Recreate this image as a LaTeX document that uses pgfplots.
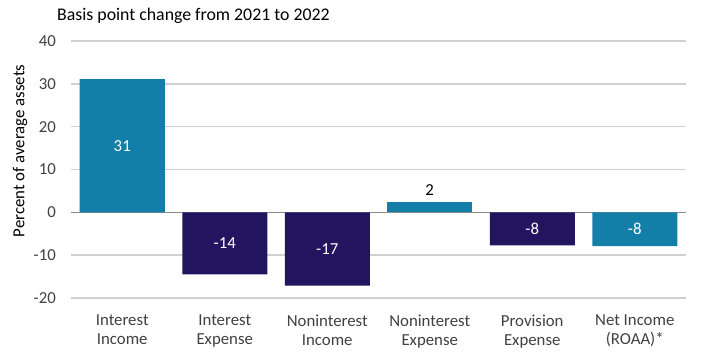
\documentclass[border=0pt]{standalone}
\usepackage{pgfplots}
\pgfplotsset{compat=1.18}
\usepackage{fontspec}
\setmainfont{Carlito}
\definecolor{tealbar}{HTML}{137FA8}
\definecolor{navybar}{HTML}{22145F}
\definecolor{gridc}{HTML}{D0D0D0}
\definecolor{zeroc}{HTML}{8C8C8C}
\definecolor{tickc}{HTML}{404040}
\begin{document}
\begin{tikzpicture}
\path[use as bounding box] (0,0) rectangle (725bp,355bp);
\begin{axis}[
  at={(71bp,57bp)}, anchor=south west,
  scale only axis, width=615bp, height=257bp,
  xmin=-0.5, xmax=5.5, ymin=-20, ymax=40,
  ytick={-20,-10,...,40},
  xtick={0,1,2,3,4,5},
  xticklabels={{Interest\\Income},{Interest\\Expense},{Noninterest\\Income},{Noninterest\\Expense},{Provision\\Expense},{Net Income\\(ROAA)*}},
  xticklabel style={align=center, font=\fontsize{16.8bp}{19bp}\selectfont, text=tickc, yshift=-13bp},
  yticklabel style={font=\fontsize{16.8bp}{19bp}\selectfont, text=tickc, inner sep=0pt, xshift=-15bp},
  /pgf/number format/assume math mode=true,
  major tick length=0pt,
  axis line style={draw=none},
  ymajorgrids, grid style={gridc, line width=1.4pt},
  extra y ticks={0}, extra y tick labels={},
  extra y tick style={grid style={zeroc, line width=1.4pt}},
  ylabel={Percent of average assets},
  ylabel style={at={(axis description cs:-0.083,0.572)}, anchor=center, font=\fontsize{16.8bp}{19bp}\selectfont, text=black},
  title={Basis point change from 2021 to 2022},
  title style={at={(axis description cs:-0.0228,1.075)}, anchor=west, inner sep=0pt, font=\fontsize{17.8bp}{20bp}\selectfont},
  ybar, bar width=85bp,
  clip=false,
]
\addplot[ybar, bar shift=0pt, fill=tealbar, draw=none,
  nodes near coords, point meta=explicit symbolic,
  visualization depends on={rawy \as \rawy},
  nodes near coords align={center},
  every node near coord/.append style={anchor=center, text=white, font=\fontsize{16.8bp}{19bp}\selectfont, yshift={-0.5*\rawy*4.28333bp}}]
  table[x=x, y=y, meta=lab] {
x y lab
0 31.1 31
5 -7.9 -8
};
\addplot[ybar, bar shift=0pt, fill=navybar, draw=none,
  nodes near coords, point meta=explicit symbolic,
  visualization depends on={rawy \as \rawy},
  nodes near coords align={center},
  every node near coord/.append style={anchor=center, text=white, font=\fontsize{16.8bp}{19bp}\selectfont, yshift={-0.5*\rawy*4.28333bp}}]
  table[x=x, y=y, meta=lab] {
x y lab
1 -14.5 -14
2 -17.1 -17
4 -7.7 -8
};
\addplot[ybar, bar shift=0pt, fill=tealbar, draw=none,
  nodes near coords, point meta=explicit symbolic,
  every node near coord/.append style={anchor=south, text=black, inner sep=0pt, yshift=7bp, font=\fontsize{16.8bp}{19bp}\selectfont}]
  table[x=x, y=y, meta=lab] {
x y lab
3 2.3 2
};
\end{axis}
\end{tikzpicture}
\end{document}
